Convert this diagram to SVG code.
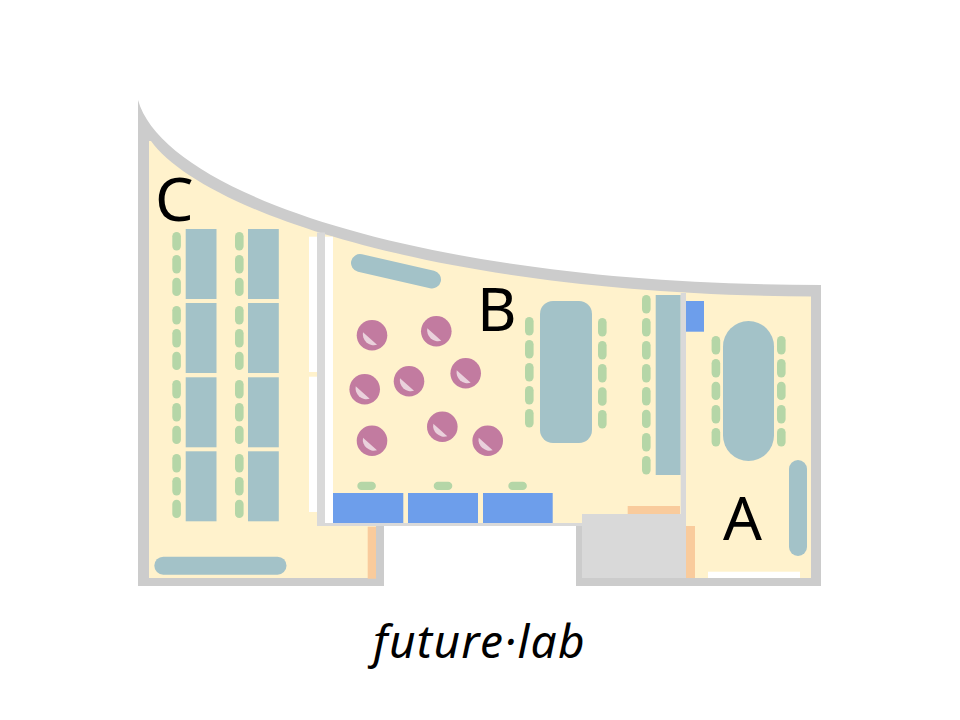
<svg xmlns="http://www.w3.org/2000/svg" width="960" height="720" viewBox="0 0 960 720">
<style>
.t{fill:#a3c2c8}.c{fill:#b5d6a7}.b{fill:#6d9eeb}.o{fill:#f9cb9c}.w{fill:#fff}.l{fill:#d9d9d9}
.p{fill:#c27ba0}.h{fill:#ead1dc}
text{fill:#000;font-family:"Noto Sans","Open Sans",sans-serif}
</style>
<defs>
<rect id="ch" class="c" width="8.6" height="18.4" rx="4.3"/>
<rect id="cv" class="c" width="18.6" height="8.4" rx="4.2"/>
<g id="s"><circle class="p" r="15.3"/><path class="h" d="M-9,-3 L5,9.5 A11,11 0 0 1 -9,-3Z"/></g>
</defs>
<g id="shell">
<path fill="#ccc" d="M138,100C165,195 430,285 821,285V586H576V524H384V586H138Z"/>
<path id="floor" fill="#fff2cc" d="M149,141H151C200,209 430,294 811,296.5V578H686V514H582V523H333V526H376V578H149Z"/>
</g>
<g id="room-c">
<rect class="w" x="309" y="236.7" width="8" height="135.3"/>
<rect class="w" x="309" y="376.7" width="8" height="135.3"/>
<rect class="l" x="317" y="232.5" width="8" height="293.5"/>
<rect class="w" x="325" y="236.7" width="8" height="286.3"/>
<rect class="l" x="317" y="523" width="265" height="3"/>
<rect class="o" x="367.7" y="526.7" width="8.3" height="52"/>
<g class="t">
<rect x="185.7" y="229" width="30.8" height="70"/><rect x="185.7" y="303" width="30.8" height="70"/><rect x="185.7" y="377.3" width="30.8" height="70"/><rect x="185.7" y="451.3" width="30.8" height="70"/>
<rect x="248" y="229" width="30.8" height="70"/><rect x="248" y="303" width="30.8" height="70"/><rect x="248" y="377.3" width="30.8" height="70"/><rect x="248" y="451.3" width="30.8" height="70"/>
<rect x="154.3" y="556.7" width="132.2" height="18" rx="9"/>
</g>
<g transform="translate(172.3 0)"><use href="#ch" y="232"/><use href="#ch" y="255"/><use href="#ch" y="277.7"/><use href="#ch" y="306"/><use href="#ch" y="329"/><use href="#ch" y="351.7"/><use href="#ch" y="380"/><use href="#ch" y="403"/><use href="#ch" y="425.7"/><use href="#ch" y="454"/><use href="#ch" y="477"/><use href="#ch" y="499.7"/></g>
<g transform="translate(235 0)"><use href="#ch" y="232"/><use href="#ch" y="255"/><use href="#ch" y="277.7"/><use href="#ch" y="306"/><use href="#ch" y="329"/><use href="#ch" y="351.7"/><use href="#ch" y="380"/><use href="#ch" y="403"/><use href="#ch" y="425.7"/><use href="#ch" y="454"/><use href="#ch" y="477"/><use href="#ch" y="499.7"/></g>
<text x="155" y="220.5" font-size="61">C</text>
</g>
<g id="room-b">
<path d="M360,263L432,279.5" stroke="#a3c2c8" stroke-width="18" stroke-linecap="round" fill="none"/>
<rect class="t" x="540" y="301" width="52" height="142" rx="13"/>
<rect class="t" x="655.7" y="295" width="25" height="180"/>
<use href="#s" x="372" y="335.3"/><use href="#s" x="436.3" y="331.3"/><use href="#s" x="465.7" y="373.3"/><use href="#s" x="409" y="381.3"/><use href="#s" x="364.7" y="389.3"/><use href="#s" x="442.3" y="426.7"/><use href="#s" x="487.7" y="440.7"/><use href="#s" x="372" y="440.7"/>
<use href="#ch" x="525" y="317"/><use href="#ch" x="525" y="340"/><use href="#ch" x="525" y="363"/><use href="#ch" x="525" y="386"/><use href="#ch" x="525" y="409"/>
<use href="#ch" x="598" y="318"/><use href="#ch" x="598" y="341"/><use href="#ch" x="598" y="364"/><use href="#ch" x="598" y="387.3"/><use href="#ch" x="598" y="410"/>
<use href="#ch" x="642" y="295"/><use href="#ch" x="642" y="318"/><use href="#ch" x="642" y="341"/><use href="#ch" x="642" y="364"/><use href="#ch" x="642" y="387"/><use href="#ch" x="642" y="409.7"/><use href="#ch" x="642" y="433"/><use href="#ch" x="642" y="456"/>
<use href="#cv" x="357.3" y="481.7"/><use href="#cv" x="433.7" y="481.7"/><use href="#cv" x="508.3" y="481.7"/>
<rect class="b" x="333" y="493" width="70.3" height="30"/><rect class="b" x="408" y="493" width="70" height="30"/><rect class="b" x="483" y="493" width="69.7" height="30"/>
<rect class="o" x="627.7" y="506" width="52.3" height="8"/>
<text x="477" y="331" font-size="61">B</text>
</g>
<g id="room-a">
<rect class="l" x="582" y="514" width="104" height="64"/>
<rect class="l" x="680.7" y="293" width="5.3" height="221"/>
<rect class="b" x="686" y="301" width="18" height="30.7"/>
<rect class="o" x="686" y="526" width="9" height="52"/>
<rect class="w" x="708" y="571.7" width="92" height="6.3"/>
<rect class="t" x="723" y="321" width="51" height="140" rx="25.5"/>
<rect class="t" x="789" y="460" width="18" height="96" rx="9"/>
<use href="#ch" x="711.6" y="336"/><use href="#ch" x="711.6" y="359"/><use href="#ch" x="711.6" y="381.7"/><use href="#ch" x="711.6" y="405"/><use href="#ch" x="711.6" y="428"/>
<use href="#ch" x="777" y="336"/><use href="#ch" x="777" y="359"/><use href="#ch" x="777" y="381.7"/><use href="#ch" x="777" y="405"/><use href="#ch" x="777" y="428"/>
<text x="723" y="540" font-size="61">A</text>
</g>
<text x="373" y="658" font-size="46" font-style="italic" letter-spacing="1.3">future·lab</text>
</svg>
